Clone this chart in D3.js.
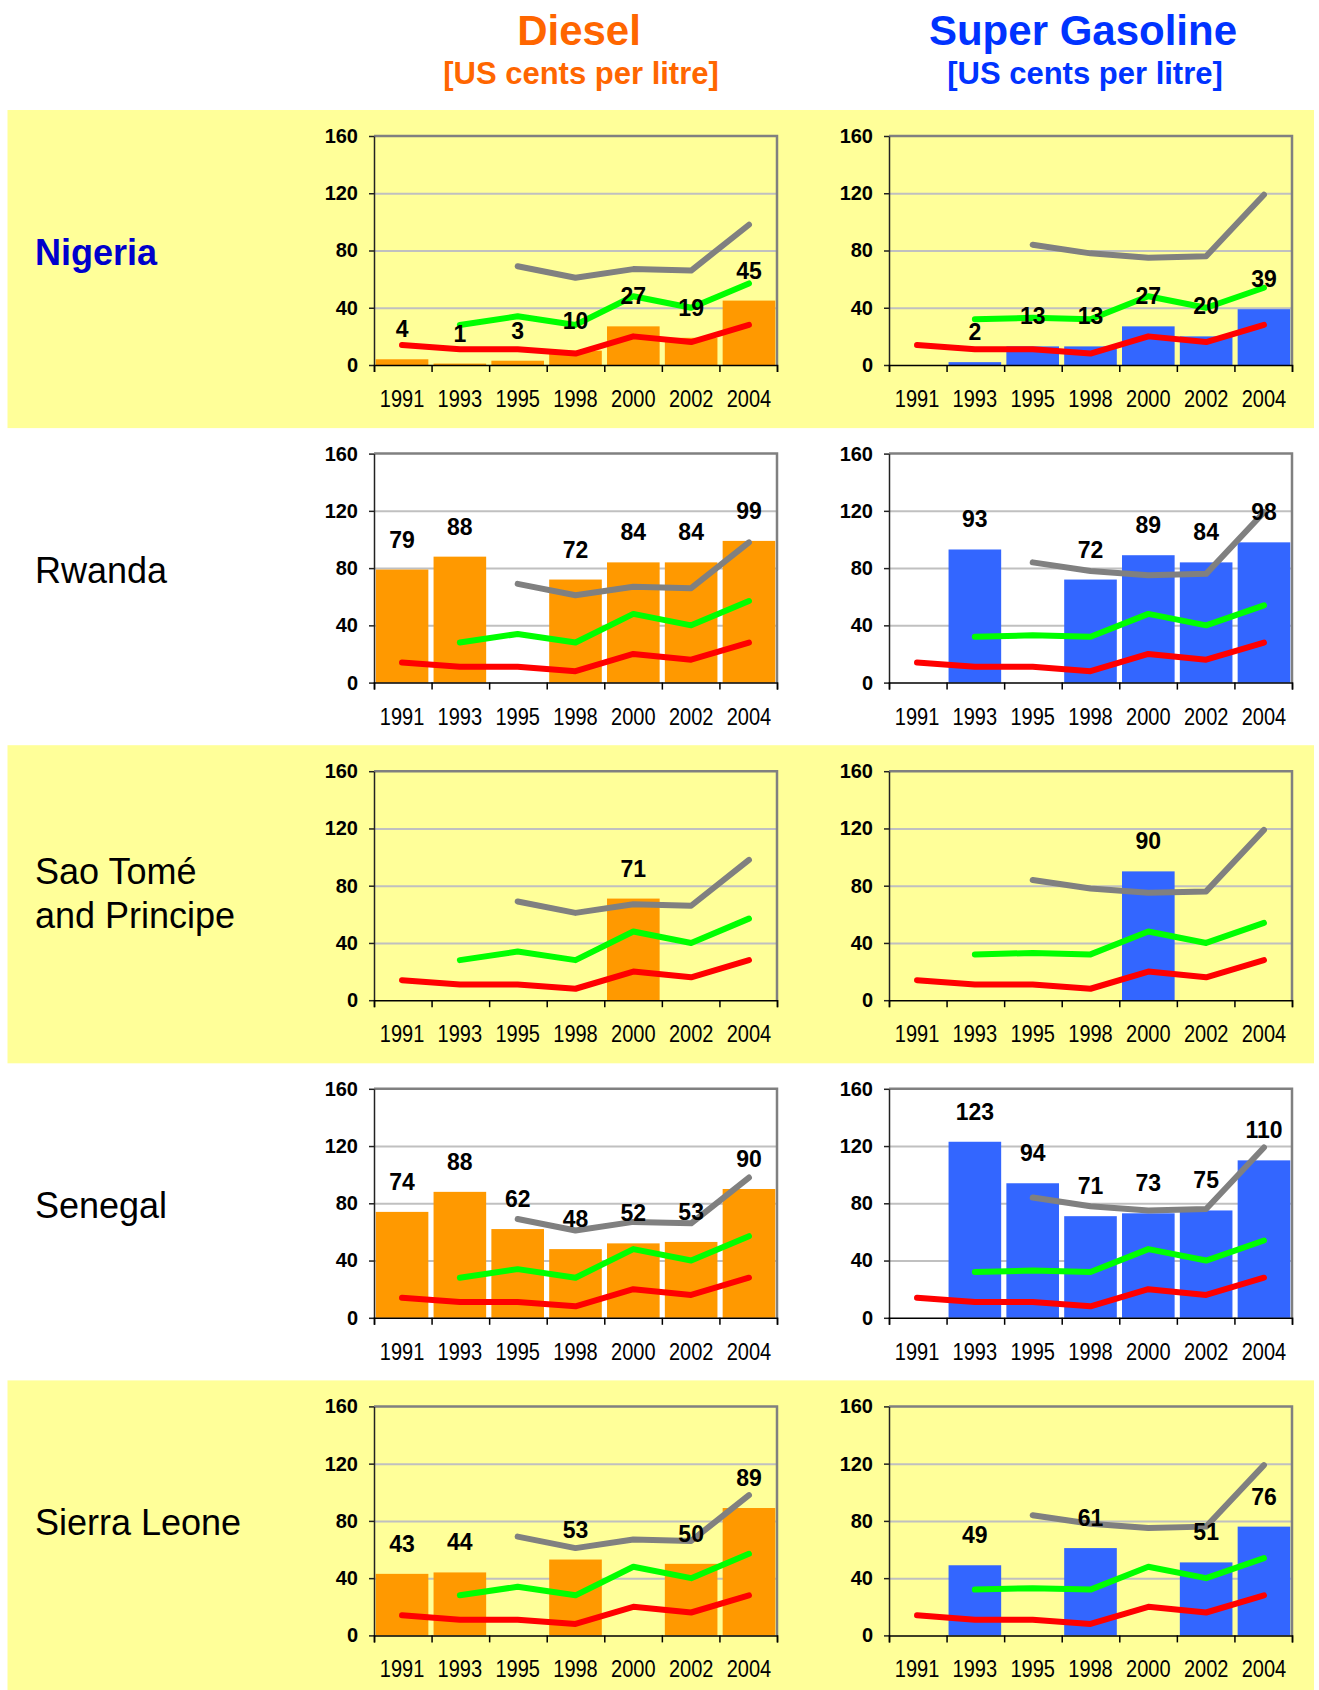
<!DOCTYPE html>
<html>
<head>
<meta charset="utf-8">
<script src="https://cdn.jsdelivr.net/npm/d3@7"></script>
<style>
  body { margin: 0; background: #fff; }
  svg { display: block; font-family: "Liberation Sans", Arial, sans-serif; }
</style>
</head>
<body>
<svg id="chart" width="1319" height="1690"></svg>
<script>
const years = ["1991", "1993", "1995", "1998", "2000", "2002", "2004"];
const yTicks = [0, 40, 80, 120, 160];
const countries = [["Nigeria"], ["Rwanda"], ["Sao Tomé", "and Principe"], ["Senegal"], ["Sierra Leone"]];

// bar values, one row per country (null = no data that year)
const dieselValues = [
  [4, 1, 3, 10, 27, 19, 45],
  [79, 88, null, 72, 84, 84, 99],
  [null, null, null, null, 71, null, null],
  [74, 88, 62, 48, 52, 53, 90],
  [43, 44, null, 53, null, 50, 89]
];
const gasolineValues = [
  [null, 2, 13, 13, 27, 20, 39],
  [null, 93, null, 72, 89, 84, 98],
  [null, null, null, null, 90, null, null],
  [null, 123, 94, 71, 73, 75, 110],
  [null, 49, null, 61, null, 51, 76]
];

// benchmark lines repeated in every panel
const dieselRed = [14, 11, 11, 8, 20, 16, 28];
const dieselGreen = [null, 28, 34, 28, 48, 40, 57];
const dieselGray = [null, null, 69, 61, 67, 66, 98];
const gasolineRed = [14, 11, 11, 8, 20, 16, 28];
const gasolineGreen = [null, 32, 33, 32, 48, 40, 54];
const gasolineGray = [null, null, 84, 78, 75, 76, 119];

const rowPitch = 317.6;
const bandTop = 110;
const plotTop = 136;
const W = 403, H = 229;
const panelX = { diesel: 374, gasoline: 889 };

const svg = d3.select("#chart");

function drawPanel(g, values, lines, barColor) {
  const x = d3.scaleBand().domain(years).range([0, W]).paddingInner(0.09).paddingOuter(0.03);
  const xb = d3.scaleLinear().domain([0, years.length]).range([0, W]);
  const y = d3.scaleLinear().domain([0, 160]).range([H, 0]);
  const cx = yr => x(yr) + x.bandwidth() / 2;

  // gridlines
  g.append("g")
    .call(d3.axisLeft(y).tickValues([40, 80, 120]).tickSize(-W).tickFormat(""))
    .call(a => a.select(".domain").remove())
    .selectAll("line")
    .attr("stroke", "#c0c0c0")
    .attr("stroke-width", 2);

  // top + right frame of plot area
  g.append("path")
    .attr("d", `M0,${y(160)}H${W}V${y(0)}`)
    .attr("fill", "none")
    .attr("stroke", "#808080")
    .attr("stroke-width", 2.5);

  const bars = years.map((yr, i) => ({ year: yr, value: values[i] })).filter(d => d.value != null);

  g.append("g")
    .selectAll("rect")
    .data(bars)
    .join("rect")
    .attr("x", d => x(d.year))
    .attr("width", x.bandwidth())
    .attr("y", d => y(d.value))
    .attr("height", d => y(0) - y(d.value))
    .attr("fill", barColor);

  // left axis
  g.append("g")
    .call(d3.axisLeft(y).tickValues(yTicks).tickSize(5).tickSizeOuter(0).tickPadding(11))
    .call(a => a.selectAll("path,line").attr("stroke", "#222").attr("stroke-width", 1.5))
    .call(a => a.selectAll("text")
      .attr("font-size", 20)
      .attr("font-weight", "bold")
      .attr("font-family", "Liberation Sans, Arial, sans-serif")
      .attr("fill", "#000"));

  // bottom axis: ticks between categories
  g.append("g")
    .attr("transform", `translate(0,${H})`)
    .call(d3.axisBottom(xb).ticks(years.length).tickSize(7).tickSizeOuter(7).tickFormat(""))
    .selectAll("path,line")
    .attr("stroke", "#000")
    .attr("stroke-width", 1.5);

  // year labels
  g.append("g")
    .attr("transform", `translate(0,${H})`)
    .call(d3.axisBottom(x).tickSize(0))
    .call(a => a.select(".domain").remove())
    .selectAll("text")
    .attr("y", 0)
    .attr("dy", 0)
    .attr("transform", "translate(0,42) scale(1,1.15)")
    .attr("font-size", 20)
    .attr("font-family", "Liberation Sans, Arial, sans-serif")
    .attr("fill", "#000");

  const line = d3.line()
    .defined(d => d.value != null)
    .x(d => cx(d.year))
    .y(d => y(d.value));

  lines.forEach(([series, color]) => {
    g.append("path")
      .datum(years.map((yr, i) => ({ year: yr, value: series[i] })))
      .attr("d", line)
      .attr("fill", "none")
      .attr("stroke", color)
      .attr("stroke-width", 6)
      .attr("stroke-linejoin", "round")
      .attr("stroke-linecap", "round");
  });

  // value labels above bars
  g.append("g")
    .selectAll("text")
    .data(bars)
    .join("text")
    .attr("transform", d => `translate(${cx(d.year)},${y(d.value) - 22}) scale(1,1.08)`)
    .attr("text-anchor", "middle")
    .attr("font-size", 23)
    .attr("font-weight", "bold")
    .attr("fill", "#000")
    .text(d => d.value);
}

// column headers
const headers = [
  { title: "Diesel", color: "#ff6600", x: 579 },
  { title: "Super Gasoline", color: "#0033ff", x: 1083 }
];
headers.forEach(h => {
  svg.append("text")
    .attr("x", h.x).attr("y", 45)
    .attr("text-anchor", "middle")
    .attr("font-size", 42).attr("font-weight", "bold")
    .attr("fill", h.color)
    .text(h.title);
  svg.append("text")
    .attr("x", h.x + 2).attr("y", 84)
    .attr("text-anchor", "middle")
    .attr("font-size", 31).attr("font-weight", "bold")
    .attr("fill", h.color)
    .text("[US cents per litre]");
});

countries.forEach((name, i) => {
  const row = svg.append("g");
  if (i % 2 === 0) {
    row.append("rect")
      .attr("x", 7.5)
      .attr("y", bandTop + i * rowPitch)
      .attr("width", 1306.5)
      .attr("height", rowPitch + 0.5)
      .attr("fill", "#ffff99");
  }

  const base = 265 + i * rowPitch;
  const label = row.append("text")
    .attr("x", 35)
    .attr("font-size", 36)
    .attr("font-weight", i === 0 ? "bold" : "normal")
    .attr("fill", i === 0 ? "#0000cc" : "#000");
  name.forEach((ln, j) => {
    label.append("tspan")
      .attr("x", 35)
      .attr("y", base - (name.length - 1) * 16.5 + j * 44)
      .text(ln);
  });

  const top = plotTop + i * rowPitch;
  drawPanel(row.append("g").attr("transform", `translate(${panelX.diesel},${top})`),
    dieselValues[i],
    [[dieselRed, "#ff0000"], [dieselGreen, "#00ff00"], [dieselGray, "#808080"]],
    "#ff9900");
  drawPanel(row.append("g").attr("transform", `translate(${panelX.gasoline},${top})`),
    gasolineValues[i],
    [[gasolineRed, "#ff0000"], [gasolineGreen, "#00ff00"], [gasolineGray, "#808080"]],
    "#3366ff");
});
</script>
</body>
</html>
